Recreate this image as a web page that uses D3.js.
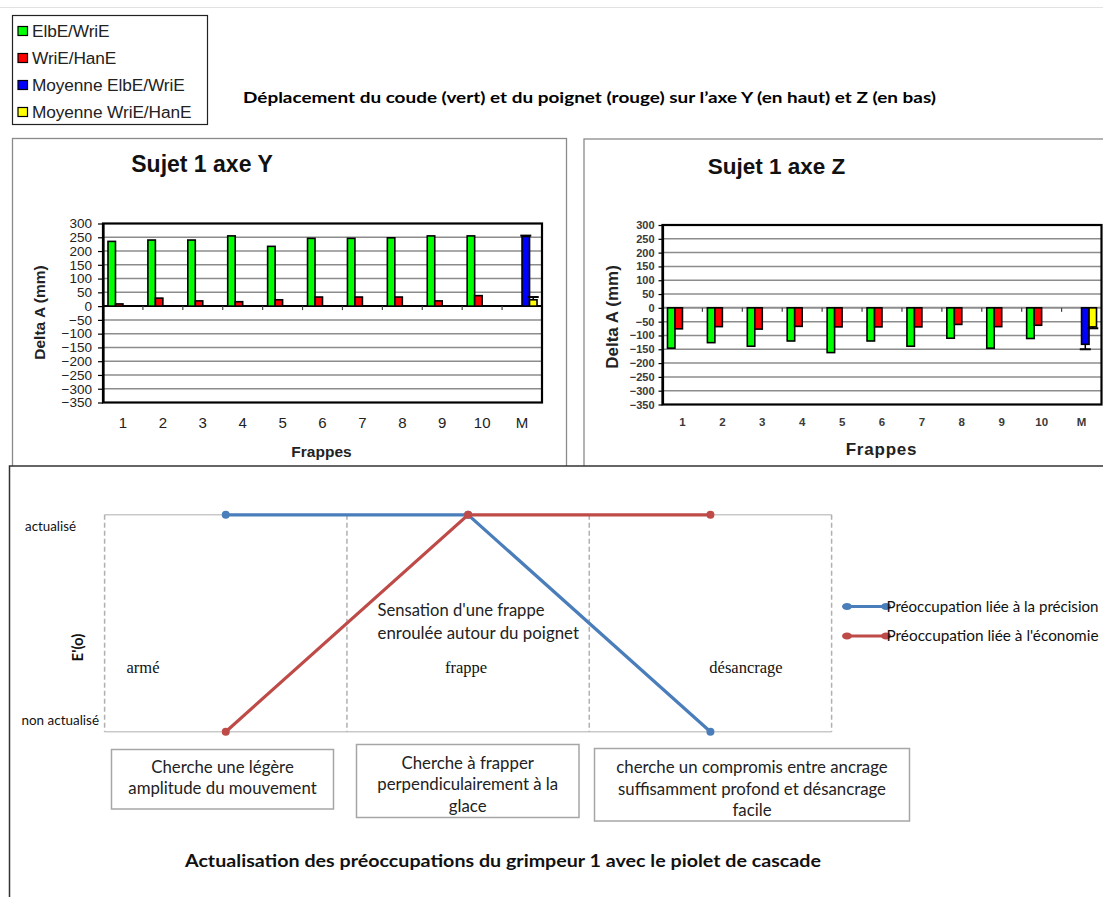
<!DOCTYPE html>
<html>
<head>
<meta charset="utf-8">
<script src="https://cdn.jsdelivr.net/npm/d3@7"></script>
<style>
  body { margin: 0; background: #fff; }
  svg { display: block; }
</style>
</head>
<body>
<svg id="render" width="1103" height="897"></svg>
<script>
// ---- data ----
let frappes = ['1', '2', '3', '4', '5', '6', '7', '8', '9', '10', 'M'];
let seriesNames = ['ElbE/WriE', 'WriE/HanE', 'Moyenne ElbE/WriE', 'Moyenne WriE/HanE'];
let seriesColors = ['#00ff00', '#ff0000', '#0000ff', '#ffff00'];
let deltaTicks = [300, 250, 200, 150, 100, 50, 0, -50, -100, -150, -200, -250, -300, -350];

// axe Y (mm)
let yElbWri = [235, 240, 240, 255, 217, 246, 246, 248, 255, 255];
let yWriHan = [8, 29, 19, 16, 23, 33, 33, 33, 19, 38];
let yMoyenne = [253, 23];
let yErreur = [3, 10];

// axe Z (mm)
let zElbWri = [-146, -126, -139, -120, -162, -120, -139, -110, -146, -111];
let zWriHan = [-76, -68, -77, -67, -69, -69, -69, -60, -68, -63];
let zMoyenne = [-132, -69];
let zErreur = [18, 5];

// préoccupations
let phases = ['armé', 'frappe', 'désancrage'];
let etats = ['non actualisé', 'actualisé'];
let precision = ['actualisé', 'actualisé', 'non actualisé'];
let economie = ['non actualisé', 'actualisé', 'actualisé'];
let concernNames = ['Préoccupation liée à la précision', "Préoccupation liée à l'économie"];
let concernColors = ['#4a7ebb', '#be4b48'];
let boxTexts = [
  ['Cherche une légère', 'amplitude du mouvement'],
  ['Cherche à frapper', 'perpendiculairement à la', 'glace'],
  ['cherche un compromis entre ancrage', 'suffisamment profond et désancrage', 'facile']
];

let svg = d3.select('#render');
let arial = 'Liberation Sans, Arial, sans-serif';
let calibri = 'Lato, Carlito, sans-serif';
let times = 'Liberation Serif, Times New Roman, serif';

function fit(sel, w) {
  sel.attr('textLength', w).attr('lengthAdjust', 'spacingAndGlyphs');
  return sel;
}

// page frame line
svg.append('line')
  .attr('x1', 0).attr('x2', 1103).attr('y1', 7.5).attr('y2', 7.5)
  .style('stroke', '#e2e2e2').style('stroke-width', 1);

// ---- legend (top left) ----
let legend = svg.append('g');
legend.append('rect')
  .attr('x', 12.5).attr('y', 15.5).attr('width', 195).attr('height', 109)
  .style('fill', '#fff').style('stroke', '#222').style('stroke-width', 1.2);
let legItems = legend.selectAll('.leg')
  .data(seriesNames)
  .join('g')
  .attr('class', 'leg')
  .attr('transform', (d, i) => `translate(18,${31 + i * 27})`);
legItems.append('rect')
  .attr('x', 0).attr('y', -4.5).attr('width', 9.5).attr('height', 9)
  .style('fill', (d, i) => seriesColors[i])
  .style('stroke', '#000').style('stroke-width', 1.2);
legItems.append('text')
  .attr('x', 14).attr('y', 6)
  .style('font-family', arial).style('font-size', '17.3px').style('fill', '#222')
  .style('letter-spacing', '-0.1px')
  .text(d => d);

fit(svg.append('text')
  .attr('x', 243).attr('y', 102.5)
  .style('font-family', calibri).style('font-weight', 'bold').style('font-size', '16px')
  .text('Déplacement du coude (vert) et du poignet (rouge) sur l’axe Y (en haut) et Z (en bas)'), 693);

// ---- bar charts ----
function barRows(elb, wri, moy, err) {
  let rows = [];
  elb.forEach((v, i) => rows.push({cat: frappes[i], s: 0, v: v}));
  wri.forEach((v, i) => rows.push({cat: frappes[i], s: 1, v: v}));
  rows.push({cat: 'M', s: 2, v: moy[0], err: err[0]});
  rows.push({cat: 'M', s: 3, v: moy[1], err: err[1]});
  return rows;
}

function barChart(opt, rows) {
  let g = svg.append('g');

  g.append('rect')
    .attr('x', opt.panel[0]).attr('y', opt.panel[1])
    .attr('width', opt.panel[2]).attr('height', opt.panel[3])
    .style('fill', '#fff').style('stroke', '#8a8a8a').style('stroke-width', 1.3);

  let x0 = d3.scaleBand().domain(frappes)
    .range([opt.left, opt.right]).paddingInner(0.25).paddingOuter(0.125);
  let x1 = d3.scaleBand().domain([0, 1, 2, 3]).range([0, x0.bandwidth()]);
  let y = d3.scaleLinear().domain([-350, 300]).range([opt.bottom, opt.top]);

  // grid
  g.selectAll('.grid')
    .data(deltaTicks.filter(t => t !== 300 && t !== -350 && t !== 0))
    .join('line')
    .attr('class', 'grid')
    .attr('x1', opt.left).attr('x2', opt.right)
    .attr('y1', d => y(d)).attr('y2', d => y(d))
    .style('stroke', '#8c8c8c').style('stroke-width', 1.5);

  // zero line with category ticks
  g.append('line')
    .attr('x1', opt.left).attr('x2', opt.right)
    .attr('y1', y(0)).attr('y2', y(0))
    .style('stroke', opt.zeroColor).style('stroke-width', 2);
  let gap = (x0.step() - x0.bandwidth()) / 2;
  g.selectAll('.ctick')
    .data(frappes)
    .join('line')
    .attr('class', 'ctick')
    .attr('x1', d => x0(d) - gap).attr('x2', d => x0(d) - gap)
    .attr('y1', y(0)).attr('y2', y(0) + 4)
    .style('stroke', '#444').style('stroke-width', 1.2);

  // bars
  g.selectAll('.bar')
    .data(rows)
    .join('rect')
    .attr('class', 'bar')
    .attr('x', d => x0(d.cat) + x1(d.s))
    .attr('width', x1.bandwidth())
    .attr('y', d => y(Math.max(0, d.v)))
    .attr('height', d => Math.abs(y(d.v) - y(0)))
    .style('fill', d => seriesColors[d.s])
    .style('stroke', '#000').style('stroke-width', 1.6);

  // error bars (plus)
  let errRows = rows.filter(d => d.err !== undefined);
  let ex = d => x0(d.cat) + x1(d.s) + x1.bandwidth() / 2;
  let ev = d => d.v + Math.sign(d.v) * d.err;
  g.selectAll('.err')
    .data(errRows)
    .join('line')
    .attr('class', 'err')
    .attr('x1', ex).attr('x2', ex)
    .attr('y1', d => y(d.v)).attr('y2', d => y(ev(d)))
    .style('stroke', '#000').style('stroke-width', 1.5);
  g.selectAll('.cap')
    .data(errRows)
    .join('line')
    .attr('class', 'cap')
    .attr('x1', d => ex(d) - 5.5).attr('x2', d => ex(d) + 5.5)
    .attr('y1', d => y(ev(d))).attr('y2', d => y(ev(d)))
    .style('stroke', '#000').style('stroke-width', 2);

  // plot border
  g.append('rect')
    .attr('x', opt.left).attr('y', opt.top)
    .attr('width', opt.right - opt.left).attr('height', opt.bottom - opt.top)
    .style('fill', 'none').style('stroke', '#000').style('stroke-width', 2.2);

  // value axis
  let yAxis = g.append('g')
    .attr('transform', `translate(${opt.left},0)`)
    .call(d3.axisLeft(y).tickValues(deltaTicks).tickSize(opt.tickLen).tickSizeOuter(0).tickPadding(opt.tickPad));
  yAxis.select('.domain').style('stroke', '#000').style('stroke-width', 2.2);
  yAxis.selectAll('.tick line').style('stroke', '#000').style('stroke-width', 1.2);
  yAxis.selectAll('.tick text')
    .style('font-family', arial).style('font-size', opt.tickFont)
    .style('font-weight', opt.tickWeight).style('fill', opt.tickColor);

  // category axis labels
  let xAxis = g.append('g')
    .attr('transform', `translate(0,${opt.bottom})`)
    .call(d3.axisBottom(x0).tickSize(0).tickPadding(opt.catPad));
  xAxis.select('.domain').remove();
  xAxis.selectAll('.tick text')
    .style('font-family', arial).style('font-size', opt.catFont)
    .style('font-weight', opt.tickWeight).style('fill', opt.tickColor);

  // titles
  g.append('text')
    .attr('x', opt.titleX).attr('y', opt.titleY)
    .attr('text-anchor', 'middle')
    .style('font-family', arial).style('font-weight', 'bold').style('font-size', opt.titleFont)
    .style('fill', '#111')
    .text(opt.title);
  g.append('text')
    .attr('transform', `translate(${opt.ylabX},${opt.ylabY}) rotate(-90)`)
    .attr('text-anchor', 'middle')
    .style('font-family', arial).style('font-weight', 'bold').style('font-size', opt.labFont)
    .style('fill', '#222')
    .text('Delta A (mm)');
  g.append('text')
    .attr('x', opt.xlabX).attr('y', opt.xlabY)
    .attr('text-anchor', 'middle')
    .style('font-family', arial).style('font-weight', 'bold').style('font-size', opt.labFont)
    .style('fill', '#222').style('letter-spacing', opt.xlabSpacing)
    .text('Frappes');
}

barChart({
  panel: [12.5, 138.5, 554, 340],
  left: 103, right: 542, top: 223.5, bottom: 402.5,
  zeroColor: '#000',
  tickLen: 5, tickPad: 6, tickFont: '13.5px', tickWeight: 'normal', tickColor: '#222',
  catPad: 15, catFont: '15px',
  title: 'Sujet 1 axe Y', titleX: 202, titleY: 171.5, titleFont: '23px',
  ylabX: 44.5, ylabY: 312.5, labFont: '15.5px',
  xlabX: 321.5, xlabY: 456.5, xlabSpacing: '0px'
}, barRows(yElbWri, yWriHan, yMoyenne, yErreur));

barChart({
  panel: [584, 139, 540, 340],
  left: 662.5, right: 1101.5, top: 225, bottom: 404.5,
  zeroColor: '#8c8c8c',
  tickLen: 4, tickPad: 4, tickFont: '11px', tickWeight: 'bold', tickColor: '#3a3a3a',
  catPad: 13, catFont: '11.5px',
  title: 'Sujet 1 axe Z', titleX: 776.5, titleY: 173.5, titleFont: '22.5px',
  ylabX: 617.5, ylabY: 317, labFont: '17px',
  xlabX: 881.5, xlabY: 454.5, xlabSpacing: '0.8px'
}, barRows(zElbWri, zWriHan, zMoyenne, zErreur));

// ---- préoccupations (bottom panel) ----
let bottom = svg.append('g');
bottom.append('rect')
  .attr('x', 9.5).attr('y', 466).attr('width', 1110).attr('height', 450)
  .style('fill', '#fff').style('stroke', '#333').style('stroke-width', 1.5);

let xB = d3.scaleBand().domain(phases).range([104.6, 831.6]);
let yB = d3.scalePoint().domain(etats).range([731.7, 514.8]);
let cx = (d, i) => xB(phases[i]) + xB.bandwidth() / 2;

// frame: solid top/bottom, dashed verticals
bottom.selectAll('.hframe')
  .data(etats)
  .join('line')
  .attr('class', 'hframe')
  .attr('x1', xB.range()[0]).attr('x2', xB.range()[1])
  .attr('y1', d => yB(d)).attr('y2', d => yB(d))
  .style('stroke', '#c9c9c9').style('stroke-width', 1.5);
bottom.selectAll('.vframe')
  .data(phases.concat(['fin']))
  .join('line')
  .attr('class', 'vframe')
  .attr('x1', (d, i) => xB.range()[0] + i * xB.step())
  .attr('x2', (d, i) => xB.range()[0] + i * xB.step())
  .attr('y1', yB('actualisé')).attr('y2', yB('non actualisé'))
  .style('stroke', '#b0b0b0').style('stroke-width', 1.5).style('stroke-dasharray', '5,3');

let line = d3.line().x(cx).y(d => yB(d));
[precision, economie].forEach((serie, k) => {
  bottom.append('path')
    .datum(serie)
    .attr('d', line)
    .style('fill', 'none').style('stroke', concernColors[k]).style('stroke-width', 3.2);
  bottom.selectAll('.pt' + k)
    .data(serie)
    .join('circle')
    .attr('class', 'pt' + k)
    .attr('cx', cx).attr('cy', d => yB(d)).attr('r', 4)
    .style('fill', concernColors[k]);
});

// state labels
fit(bottom.append('text')
  .attr('x', 25).attr('y', yB('actualisé') + 16.5)
  .style('font-family', calibri).style('font-size', '14px').style('fill', '#111')
  .text('actualisé'), 51);
fit(bottom.append('text')
  .attr('x', 21.5).attr('y', yB('non actualisé') - 7)
  .style('font-family', calibri).style('font-size', '14px').style('fill', '#111')
  .text('non actualisé'), 77.5);
bottom.append('text')
  .attr('transform', 'translate(82.5,647.5) rotate(-90)')
  .attr('text-anchor', 'middle')
  .style('font-family', calibri).style('font-weight', 'bold').style('font-size', '15px')
  .style('fill', '#111')
  .text("E'(o)");

// phase labels
let phaseX = [143, 466, 746];
bottom.selectAll('.phase')
  .data(phases)
  .join('text')
  .attr('class', 'phase')
  .attr('x', (d, i) => phaseX[i]).attr('y', 672.5)
  .attr('text-anchor', 'middle')
  .style('font-family', times).style('font-size', '16.5px').style('fill', '#111')
  .text(d => d);

// annotation
fit(bottom.append('text')
  .attr('x', 377.5).attr('y', 616)
  .style('font-family', calibri).style('font-size', '16.5px').style('fill', '#222')
  .text("Sensation d'une frappe"), 167);
fit(bottom.append('text')
  .attr('x', 377.5).attr('y', 638.5)
  .style('font-family', calibri).style('font-size', '16.5px').style('fill', '#222')
  .text('enroulée autour du poignet'), 201.5);

// concern legend
let cl = bottom.selectAll('.cleg')
  .data(concernNames)
  .join('g')
  .attr('class', 'cleg')
  .attr('transform', (d, i) => `translate(847,${606.5 + i * 29.5})`);
cl.append('line')
  .attr('x1', 0).attr('x2', 39)
  .style('stroke', (d, i) => concernColors[i]).style('stroke-width', 3.2);
cl.selectAll('ellipse')
  .data((d, i) => [[0, i], [39, i]])
  .join('ellipse')
  .attr('cx', d => d[0]).attr('cy', 0).attr('rx', 5).attr('ry', 3.5)
  .style('fill', d => concernColors[d[1]]);
cl.each(function (d) {
  fit(d3.select(this).append('text')
    .attr('x', 39.5).attr('y', 5)
    .style('font-family', calibri).style('font-size', '15px').style('fill', '#111')
    .text(d), 212);
});

// text boxes
let boxGeom = [
  {x: 111.5, y: 749.5, w: 222, h: 59.5, cx: 222.5, y0: 772.5},
  {x: 356.5, y: 744.5, w: 222.5, h: 73, cx: 467.7, y0: 768.5},
  {x: 594.5, y: 748.5, w: 315, h: 72.5, cx: 752, y0: 773}
];
let boxes = bottom.selectAll('.tbox')
  .data(boxTexts)
  .join('g')
  .attr('class', 'tbox');
boxes.append('rect')
  .attr('x', (d, i) => boxGeom[i].x).attr('y', (d, i) => boxGeom[i].y)
  .attr('width', (d, i) => boxGeom[i].w).attr('height', (d, i) => boxGeom[i].h)
  .style('fill', '#fff').style('stroke', '#a6a6a6').style('stroke-width', 1.5);
boxes.each(function (lines, i) {
  d3.select(this).selectAll('text')
    .data(lines)
    .join('text')
    .attr('x', boxGeom[i].cx)
    .attr('y', (d, j) => boxGeom[i].y0 + j * 21.5)
    .attr('text-anchor', 'middle')
    .style('font-family', calibri).style('font-size', '16.8px').style('fill', '#222')
    .text(d => d);
});

fit(bottom.append('text')
  .attr('x', 185).attr('y', 867)
  .style('font-family', calibri).style('font-weight', 'bold').style('font-size', '16.5px')
  .style('fill', '#111')
  .text('Actualisation des préoccupations du grimpeur 1 avec le piolet  de cascade'), 636);
</script>
</body>
</html>
